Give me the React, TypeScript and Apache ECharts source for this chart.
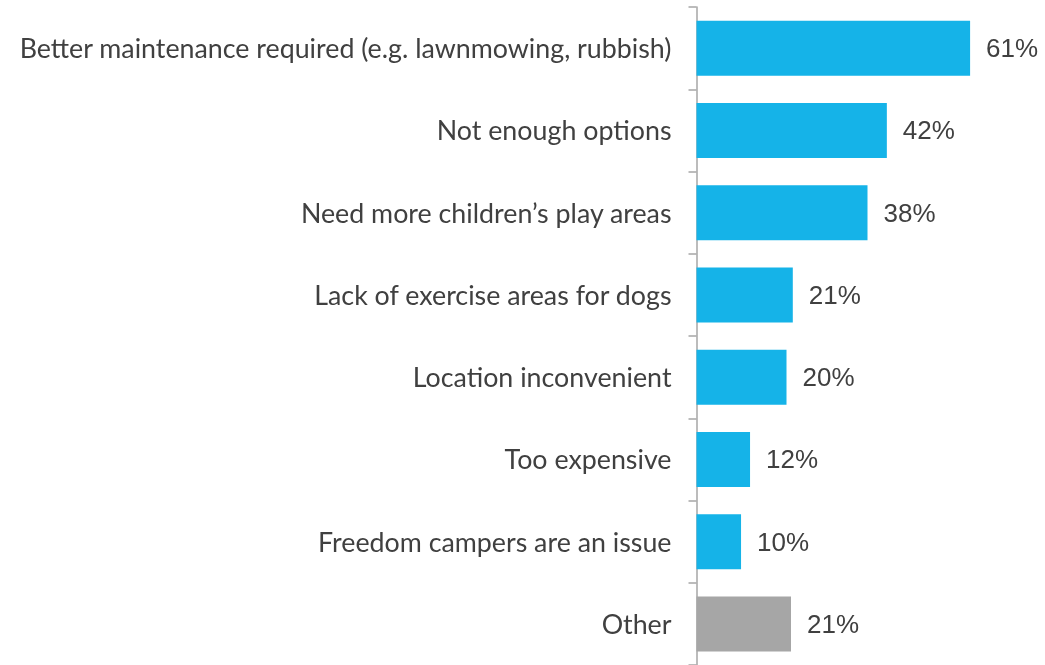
import React, { useEffect, useRef } from "react";
import * as echarts from "echarts";

const categories = [
  "Better maintenance required (e.g. lawnmowing, rubbish)",
  "Not enough options",
  "Need more children\u2019s play areas",
  "Lack of exercise areas for dogs",
  "Location inconvenient",
  "Too expensive",
  "Freedom campers are an issue",
  "Other",
];
// bar lengths (percent)
const values = [60.8, 42.3, 38.0, 21.4, 20.0, 11.9, 9.9, 21.0];
// labels as printed on the chart
const valueLabels = ["61%", "42%", "38%", "21%", "20%", "12%", "10%", "21%"];
const barColors = ["#15B3E8", "#15B3E8", "#15B3E8", "#15B3E8", "#15B3E8", "#15B3E8", "#15B3E8", "#A6A6A6"];

export default function App() {
  const ref = useRef<HTMLDivElement>(null);
  useEffect(() => {
    if (!ref.current) return;
    const chart = echarts.init(ref.current, undefined, { renderer: "svg" });
    chart.setOption({
      animation: false,
      grid: { left: 696.5, top: 7, height: 662, right: 1045 - (696.5 + 70 * 4.5) },
      xAxis: {
        type: "value",
        min: 0,
        max: 70,
        show: false,
      },
      yAxis: {
        type: "category",
        data: categories,
        inverse: true,
        axisLine: { show: true, lineStyle: { color: "#A6A6A6", width: 1.5 } },
        axisTick: { show: true, length: 8, lineStyle: { color: "#A6A6A6", width: 1.5 } },
        axisLabel: {
          margin: 25,
          fontFamily: "Lato",
          fontSize: 26.8,
          color: "#404040",
        },
      },
      series: [
        {
          type: "bar",
          barWidth: 55,
          data: values.map((v, i) => ({ value: v, itemStyle: { color: barColors[i] } })),
          label: {
            show: true,
            position: "right",
            distance: 16,
            formatter: (p: any) => valueLabels[p.dataIndex],
            fontFamily: "Liberation Sans",
            fontSize: 26,
            color: "#404040",
          },
        },
      ],
    });
    return () => chart.dispose();
  }, []);
  return (
    <div
      ref={ref}
      style={{ position: "fixed", left: 0, top: 0, width: 1045, height: 665 }}
    />
  );
}
